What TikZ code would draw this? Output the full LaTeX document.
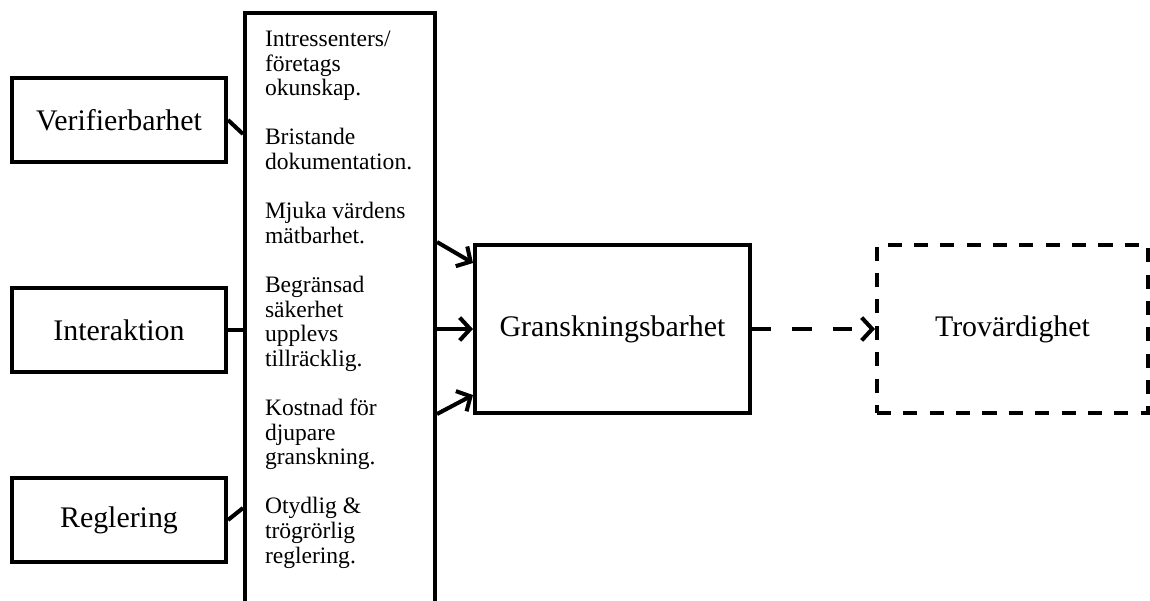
\documentclass[tikz,border=0pt]{standalone}
\usepackage{fontspec}
\setmainfont{Liberation Serif}
\usetikzlibrary{positioning,calc,arrows.meta}

\begin{document}
\begin{tikzpicture}[
  line width=2.3pt,
  cause/.style={draw, minimum width=4.28cm, minimum height=1.68cm, font=\fontsize{17}{20}\selectfont},
  mainbox/.style={draw, minimum width=5.5cm, minimum height=3.36cm, font=\fontsize{17}{20}\selectfont},
  arrow/.style={-{Straight Barb[length=6pt,width=13pt]}}
]
\useasboundingbox (0,0) rectangle (23,-12);

% ===== Causes on the left =====
\node[cause] (verif) at (2.38,-2.4) {Verifierbarhet};
\node[cause] (inter) at (2.38,-6.6) {Interaktion};
\node[cause] (regl) at (2.38,-10.4) {Reglering};

% ===== Tall box with the list of problems =====
\node[draw, minimum width=3.8cm, minimum height=12cm] (factors) at (6.8,-6.26) {};
\node[below right=0.36cm and 0.4cm of factors.north west, anchor=north west, inner sep=0pt,
      align=left, font=\fontsize{13.4}{14}\selectfont] (list)
  {Intressenters/\\ företags\\ okunskap.\\[14pt]
   Bristande\\ dokumentation.\\[14pt]
   Mjuka värdens\\ mätbarhet.\\[14pt]
   Begränsad\\ säkerhet\\ upplevs\\ tillräcklig.\\[14pt]
   Kostnad för\\ djupare\\ granskning.\\[14pt]
   Otydlig \&\\ trögrörlig\\ reglering.};

% ===== Result boxes =====
\node[mainbox] (gransk) at (12.25,-6.58) {Granskningsbarhet};
\node[mainbox, dash pattern=on 8pt off 7pt, minimum width=5.42cm] (trov) at (20.25,-6.58) {Trovärdighet};

% Connectors into the tall box
\draw (verif.east) -- ($(verif.east -| factors.west)+(0,-0.28)$);
\draw (inter.east) -- (inter.east -| factors.west);
\draw (regl.east) -- ($(regl.east -| factors.west)+(0,0.24)$);

% Arrows into Granskningsbarhet
\draw[arrow] ($(factors.east |- gransk.west)+(0,1.74)$) -- ($(gransk.west)+(0,1.32)$);
\draw[arrow] (factors.east |- gransk.west) -- (gransk.west);
\draw[arrow] ($(factors.east |- gransk.west)+(0,-1.7)$) -- ($(gransk.west)+(0,-1.32)$);

% Dashed arrow to Trovärdighet
\draw[arrow, dash pattern=on 11pt off 12pt] (gransk.east) -- (trov.west);

\end{tikzpicture}
\end{document}
